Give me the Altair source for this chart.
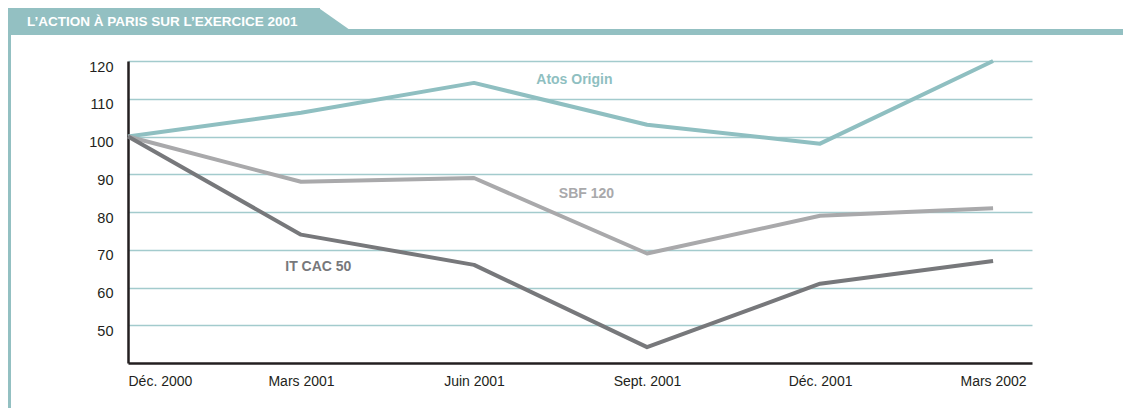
import altair as alt
import pandas as pd

# ---- data ----
periods = ["Déc. 2000", "Mars 2001", "Juin 2001", "Sept. 2001", "Déc. 2001", "Mars 2002"]
atos = [100, 106.3, 114.2, 103.1, 98.1, 120]
sbf = [100, 88, 89, 69, 79, 81]
itcac = [100, 74, 66, 44.2, 61, 67]
series_names = ["Atos Origin", "SBF 120", "IT CAC 50"]
series_colors = ["#8fbfc1", "#a9a9ab", "#77787b"]
label_x = [2.58, 2.65, 1.10]
label_y = [113.9, 83.6, 64.3]
y_ticks = [50, 60, 70, 80, 90, 100, 110, 120]
title_text = "L’ACTION À PARIS SUR L’EXERCICE 2001"

TEAL = "#93c0c2"
DARK = "#231f20"
REG = "Liberation Sans, Arial, sans-serif"

rows = []
for name, vals in zip(series_names, [atos, sbf, itcac]):
    for i, v in enumerate(vals):
        rows.append({"i": i, "v": v, "s": name})
df = pd.DataFrame(rows)

labels_df = pd.DataFrame({"s": series_names, "x": label_x, "y": label_y})

label_expr = "[" + ",".join("'" + p + "'" for p in periods) + "][datum.value]"

color_scale = alt.Scale(domain=series_names, range=series_colors)

x_enc = alt.X(
    "i:Q",
    scale=alt.Scale(domain=[0, 5.225], nice=False, zero=False),
    axis=alt.Axis(
        values=list(range(len(periods))),
        labelExpr=label_expr,
        title=None,
        grid=False,
        ticks=False,
        domainColor=DARK,
        domainWidth=2.5,
        labelFont=REG,
        labelFontSize=14,
        labelColor=DARK,
        labelPadding=11,
        labelAlign={"condition": {"test": "datum.value == 0", "value": "left"}, "value": "center"},
    ),
)
y_enc = alt.Y(
    "v:Q",
    scale=alt.Scale(domain=[40, 120], nice=False, zero=False),
    axis=alt.Axis(
        values=y_ticks,
        title=None,
        grid=True,
        gridColor="#a3cbcd",
        gridWidth=1.5,
        ticks=False,
        domainColor=DARK,
        domainWidth=2.5,
        labelFont=REG,
        labelFontSize=14.5,
        labelColor=DARK,
        labelPadding=15,
        labelOffset=6,
    ),
)

lines = alt.Chart(df).mark_line(strokeWidth=4, strokeJoin="round").encode(
    x=x_enc,
    y=y_enc,
    color=alt.Color("s:N", scale=color_scale, legend=None),
    detail="s:N",
)

texts = alt.Chart(labels_df).mark_text(
    font=REG, fontSize=14, fontWeight="bold", align="center", baseline="alphabetic"
).encode(
    x="x:Q",
    y="y:Q",
    text="s:N",
    color=alt.Color("s:N", scale=color_scale, legend=None),
)

one = alt.Data(values=[{"k": 1}])

band = alt.Chart(one).mark_rect(color=TEAL).encode(
    x=alt.value(-120), x2=alt.value(192), y=alt.value(-53), y2=alt.value(-26)
)
strip = alt.Chart(one).mark_rect(color=TEAL).encode(
    x=alt.value(-120), x2=alt.value(995), y=alt.value(-32), y2=alt.value(-26)
)
tri = alt.Chart(one).mark_point(
    shape="M-1,-0.7L1,0.7L-1,0.7Z", filled=True, size=1024, opacity=1, strokeWidth=0, color=TEAL
).encode(x=alt.value(206), y=alt.value(-42.3))
leftbar = alt.Chart(one).mark_rect(color=TEAL).encode(
    x=alt.value(-120), x2=alt.value(-117), y=alt.value(-53), y2=alt.value(347)
)
head_text = alt.Chart(one).mark_text(
    text=title_text, font=REG, fontSize=13.5, fontWeight="bold", color="white",
    align="left", baseline="alphabetic"
).encode(x=alt.value(-101), y=alt.value(-35))

chart = alt.layer(band, strip, tri, leftbar, head_text, lines, texts).properties(
    width=904,
    height=302,
    autosize=alt.AutoSizeParams(type="none"),
    padding={"left": 120, "top": 53, "right": 91, "bottom": 45},
).configure_view(stroke=None)

chart.save("out.html", embed_options={"renderer": "svg", "actions": False})
